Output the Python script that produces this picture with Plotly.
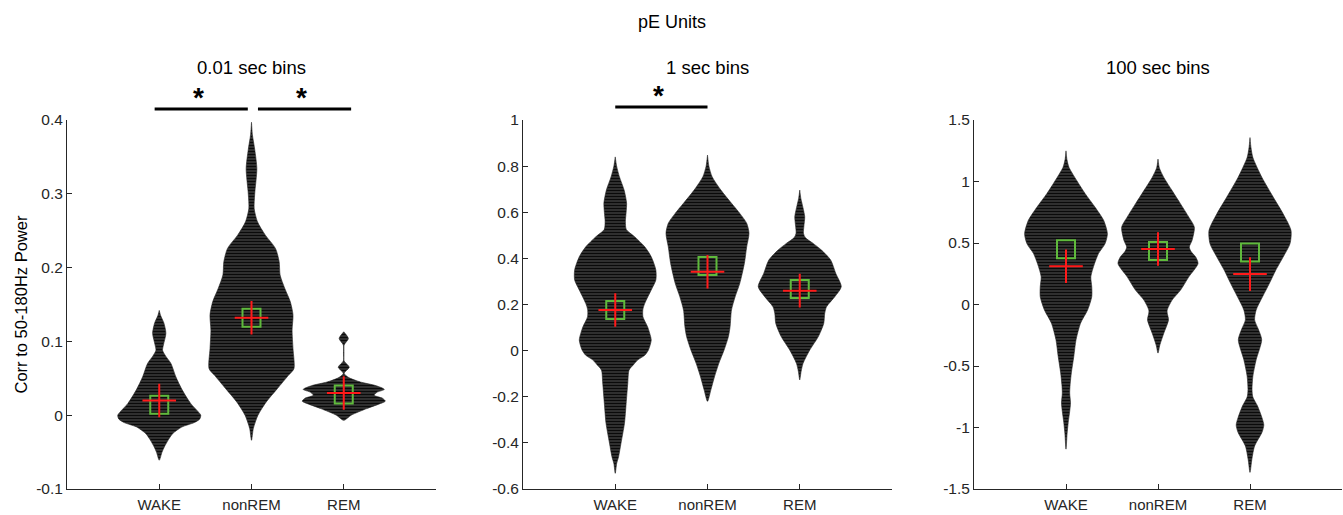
import plotly.graph_objects as go

W, H = 1343, 515
categories = ["WAKE", "nonREM", "REM"]
suptitle = "pE Units"
panel_titles = ["0.01 sec bins", "1 sec bins", "100 sec bins"]
ylabel = "Corr to 50-180Hz Power"

# ---------- Panel 1: 0.01 sec bins (violin outlines: value, half-width) ----------
p1_wake_y = [-0.061, -0.05, -0.043, -0.033, -0.025, -0.016, -0.010, -0.005, 0.0, 0.005, 0.016, 0.034,
             0.052, 0.07, 0.08, 0.088, 0.095, 0.111, 0.125, 0.135, 0.142]
p1_wake_hw = [0.0, 0.03, 0.055, 0.10, 0.145, 0.245, 0.38, 0.44, 0.45, 0.42, 0.34, 0.25,
              0.18, 0.127, 0.07, 0.036, 0.045, 0.072, 0.05, 0.015, 0.0]
p1_nrem_y = [-0.034, -0.018, 0.0, 0.018, 0.036, 0.054, 0.063, 0.09, 0.115, 0.136, 0.154, 0.172, 0.19,
             0.208, 0.226, 0.244, 0.262, 0.28, 0.30, 0.334, 0.36, 0.38, 0.397]
p1_nrem_hw = [0.0, 0.02, 0.07, 0.16, 0.28, 0.40, 0.46, 0.45, 0.44, 0.45, 0.42, 0.36, 0.31,
              0.30, 0.26, 0.15, 0.065, 0.029, 0.035, 0.058, 0.035, 0.01, 0.0]
p1_rem_y = [-0.007, 0.0, 0.009, 0.015, 0.019, 0.023, 0.027, 0.031, 0.035, 0.04, 0.045, 0.05, 0.053,
            0.057, 0.065, 0.0735, 0.084, 0.095, 0.104, 0.113]
p1_rem_hw = [0.0, 0.08, 0.25, 0.38, 0.45, 0.42, 0.33, 0.36, 0.44, 0.35, 0.18, 0.07, 0.03,
             0.004, 0.06, 0.004, 0.003, 0.004, 0.05, 0.0]
p1_median = [0.014, 0.132, 0.028]
p1_mean = [0.020, 0.132, 0.030]

# ---------- Panel 2: 1 sec bins ----------
p2_wake_y = [-0.532, -0.49, -0.46, -0.40, -0.315, -0.23, -0.14, -0.084, -0.06, -0.04, -0.02, 0.003, 0.046,
             0.08, 0.104, 0.147, 0.18, 0.205, 0.263, 0.306, 0.35, 0.407, 0.45, 0.494, 0.525, 0.56, 0.6,
             0.64, 0.696, 0.754, 0.80, 0.84]
p2_wake_hw = [0.0, 0.015, 0.036, 0.063, 0.10, 0.118, 0.136, 0.15, 0.2, 0.245, 0.32, 0.36, 0.39,
              0.37, 0.35, 0.30, 0.30, 0.32, 0.39, 0.44, 0.44, 0.39, 0.32, 0.21, 0.12, 0.11, 0.118,
              0.123, 0.096, 0.045, 0.015, 0.0]
p2_nrem_y = [-0.22, -0.171, -0.113, -0.055, 0.003, 0.06, 0.104, 0.176, 0.234, 0.292, 0.379, 0.45, 0.509,
             0.552, 0.595, 0.639, 0.696, 0.754, 0.80, 0.848]
p2_nrem_hw = [0.0, 0.036, 0.076, 0.123, 0.18, 0.226, 0.245, 0.26, 0.30, 0.35, 0.40, 0.425, 0.45,
              0.425, 0.35, 0.26, 0.145, 0.05, 0.015, 0.0]
p2_rem_y = [-0.127, -0.09, -0.055, 0.003, 0.06, 0.118, 0.16, 0.19, 0.234, 0.277, 0.335, 0.393, 0.436,
            0.465, 0.49, 0.509, 0.54, 0.58, 0.62, 0.66, 0.696]
p2_rem_hw = [0.0, 0.015, 0.036, 0.109, 0.2, 0.26, 0.27, 0.29, 0.38, 0.45, 0.39, 0.335, 0.235,
             0.145, 0.06, 0.04, 0.045, 0.054, 0.035, 0.012, 0.0]
p2_median = [0.176, 0.367, 0.267]
p2_mean = [0.176, 0.342, 0.260]

# ---------- Panel 3: 100 sec bins ----------
p3_wake_y = [-1.176, -1.05, -0.96, -0.87, -0.8, -0.72, -0.65, -0.556, -0.422, -0.287, -0.152, -0.044,
             0.063, 0.144, 0.225, 0.333, 0.414, 0.495, 0.576, 0.683, 0.79, 0.899, 1.006, 1.114, 1.18, 1.249]
p3_wake_hw = [0.0, 0.012, 0.024, 0.04, 0.049, 0.04, 0.045, 0.058, 0.085, 0.109, 0.158, 0.235,
              0.28, 0.28, 0.27, 0.31, 0.353, 0.425, 0.45, 0.41, 0.317, 0.21, 0.118, 0.033, 0.01, 0.0]
p3_nrem_y = [-0.395, -0.33, -0.233, -0.125, -0.07, -0.044, 0.036, 0.117, 0.225, 0.333, 0.386, 0.43,
             0.467, 0.521, 0.629, 0.71, 0.818, 0.926, 1.033, 1.11, 1.182]
p3_nrem_hw = [0.0, 0.02, 0.063, 0.114, 0.1, 0.1, 0.153, 0.245, 0.335, 0.435, 0.41, 0.36,
              0.34, 0.37, 0.395, 0.335, 0.245, 0.153, 0.063, 0.015, 0.0]
p3_rem_y = [-1.365, -1.26, -1.15, -1.04, -0.98, -0.92, -0.826, -0.75, -0.691, -0.584, -0.449, -0.287,
            -0.2, -0.125, -0.044, 0.063, 0.171, 0.279, 0.386, 0.495, 0.602, 0.737, 0.871, 1.033, 1.195,
            1.28, 1.357]
p3_rem_hw = [0.0, 0.02, 0.05, 0.13, 0.15, 0.13, 0.082, 0.03, 0.022, 0.031, 0.067, 0.127,
             0.09, 0.05, 0.067, 0.136, 0.21, 0.28, 0.36, 0.435, 0.446, 0.36, 0.254, 0.13, 0.031,
             0.01, 0.0]
p3_median = [0.449, 0.435, 0.422]
p3_mean = [0.311, 0.451, 0.247]

# tick labels
p1_ticks = [-0.1, 0, 0.1, 0.2, 0.3, 0.4]
p1_ticklabels = ["-0.1", "0", "0.1", "0.2", "0.3", "0.4"]
p2_ticks = [-0.6, -0.4, -0.2, 0, 0.2, 0.4, 0.6, 0.8, 1]
p2_ticklabels = ["-0.6", "-0.4", "-0.2", "0", "0.2", "0.4", "0.6", "0.8", "1"]
p3_ticks = [-1.5, -1, -0.5, 0, 0.5, 1, 1.5]
p3_ticklabels = ["-1.5", "-1", "-0.5", "0", "0.5", "1", "1.5"]

# significance comparisons (category index pairs) per panel
p1_sig = [(0, 1), (1, 2)]
p2_sig = [(0, 1)]
p3_sig = []

panels = [
    dict(violins=[(p1_wake_y, p1_wake_hw), (p1_nrem_y, p1_nrem_hw), (p1_rem_y, p1_rem_hw)],
         median=p1_median, mean=p1_mean, rng=[-0.1, 0.4], ticks=p1_ticks, labels=p1_ticklabels,
         sig=p1_sig),
    dict(violins=[(p2_wake_y, p2_wake_hw), (p2_nrem_y, p2_nrem_hw), (p2_rem_y, p2_rem_hw)],
         median=p2_median, mean=p2_mean, rng=[-0.6, 1.0], ticks=p2_ticks, labels=p2_ticklabels,
         sig=p2_sig),
    dict(violins=[(p3_wake_y, p3_wake_hw), (p3_nrem_y, p3_nrem_hw), (p3_rem_y, p3_rem_hw)],
         median=p3_median, mean=p3_mean, rng=[-1.5, 1.5], ticks=p3_ticks, labels=p3_ticklabels,
         sig=p3_sig),
]

# ---------- layout geometry (pixels) ----------
x_dom_px = [(67, 436), (523, 892), (974, 1342)]
y_top_px, y_bot_px = 120, 489
ydom = [(H - y_bot_px) / H, (H - y_top_px) / H]

FONT = "Liberation Sans, Arial, Helvetica, sans-serif"
AXC = "#262626"
GREEN = "#5fba3c"
RED = "#ff1a1a"

fig = go.Figure()
layout = dict(
    width=W, height=H, margin=dict(l=0, r=0, t=0, b=0, autoexpand=False),
    paper_bgcolor="white", plot_bgcolor="white", showlegend=False,
    font=dict(family=FONT, color=AXC),
)
annotations = []
shapes = []

for i, p in enumerate(panels):
    n = "" if i == 0 else str(i + 1)
    xa, ya = "x" + n, "y" + n
    for j, (ys, hws) in enumerate(p["violins"]):
        c = j + 1
        xs = [c + w for w in hws] + [c - w for w in reversed(hws)]
        yy = list(ys) + list(reversed(ys))
        fig.add_trace(go.Scatter(
            x=xs, y=yy, xaxis=xa, yaxis=ya, mode="lines", fill="toself",
            fillcolor="#222222",
            fillpattern=dict(shape="-", fgcolor="#0a0a0a", bgcolor="#474747",
                             size=3, solidity=0.6, fillmode="replace"),
            line=dict(width=0.6, color="#222222", shape="spline", smoothing=0.7),
            hoverinfo="skip"))
    fig.add_trace(go.Scatter(
        x=[1, 2, 3], y=p["median"], xaxis=xa, yaxis=ya, mode="markers",
        marker=dict(symbol="square-open", size=18, color=GREEN, line=dict(width=2, color=GREEN)),
        hoverinfo="skip"))
    fig.add_trace(go.Scatter(
        x=[1, 2, 3], y=p["mean"], xaxis=xa, yaxis=ya, mode="markers",
        marker=dict(symbol="cross-thin-open", size=24, color=RED, line=dict(width=2, color=RED)),
        hoverinfo="skip"))

    x0, x1 = x_dom_px[i]
    layout["xaxis" + n] = dict(
        domain=[x0 / W, x1 / W], range=[0, 4], anchor=ya, tickvals=[1, 2, 3], ticktext=categories,
        ticks="inside", ticklen=5, tickcolor=AXC, showline=True, linecolor=AXC, linewidth=1,
        showgrid=False, zeroline=False, tickfont=dict(size=15, color=AXC, family=FONT),
        ticklabelstandoff=2, fixedrange=True, automargin=False)
    layout["yaxis" + n] = dict(
        domain=ydom, range=p["rng"], anchor=xa, tickvals=p["ticks"], ticktext=p["labels"],
        ticks="inside", ticklen=5, tickcolor=AXC, showline=True, linecolor=AXC, linewidth=1,
        showgrid=False, zeroline=False, tickfont=dict(size=15.5, color=AXC, family=FONT),
        fixedrange=True, automargin=False)

    # panel title
    annotations.append(dict(text=panel_titles[i], xref="paper", yref="paper",
                            x=(x0 + x1) / 2 / W, y=(H - 68) / H, xanchor="center", yanchor="middle",
                            showarrow=False, font=dict(size=18.5, color="black", family=FONT)))

    # significance bars
    for (a, b) in p["sig"]:
        xl, xr = a + 1, b + 1
        if i == 0:
            xl, xr = (xl - 0.05, xr - 0.04) if a == 0 else (xl + 0.07, xr + 0.08)
        ly = (H - (109 if i == 0 else 107)) / H
        shapes.append(dict(type="line", xref=xa, yref="paper", x0=xl, x1=xr, y0=ly, y1=ly,
                           line=dict(color="black", width=3)))
        annotations.append(dict(text="<b>*</b>", xref=xa, yref="paper", x=(xl + xr) / 2 - 0.03,
                                y=ly - 6 / H, xanchor="center", yanchor="bottom", showarrow=False,
                                font=dict(size=28, color="black", family=FONT)))

annotations.append(dict(text=suptitle, xref="paper", yref="paper", x=0.5, y=(H - 22) / H,
                        xanchor="center", yanchor="middle", showarrow=False,
                        font=dict(size=18, color="black", family=FONT)))
annotations.append(dict(text=ylabel, xref="paper", yref="paper", x=20 / W,
                        y=(ydom[0] + ydom[1]) / 2, xanchor="center", yanchor="middle",
                        textangle=-90, showarrow=False,
                        font=dict(size=16.5, color="black", family=FONT)))

layout["annotations"] = annotations
layout["shapes"] = shapes
fig.update_layout(**layout)
fig.write_html("out.html", config={"displayModeBar": False},
               post_script="document.body.style.margin='0';document.body.style.overflow='hidden';")
